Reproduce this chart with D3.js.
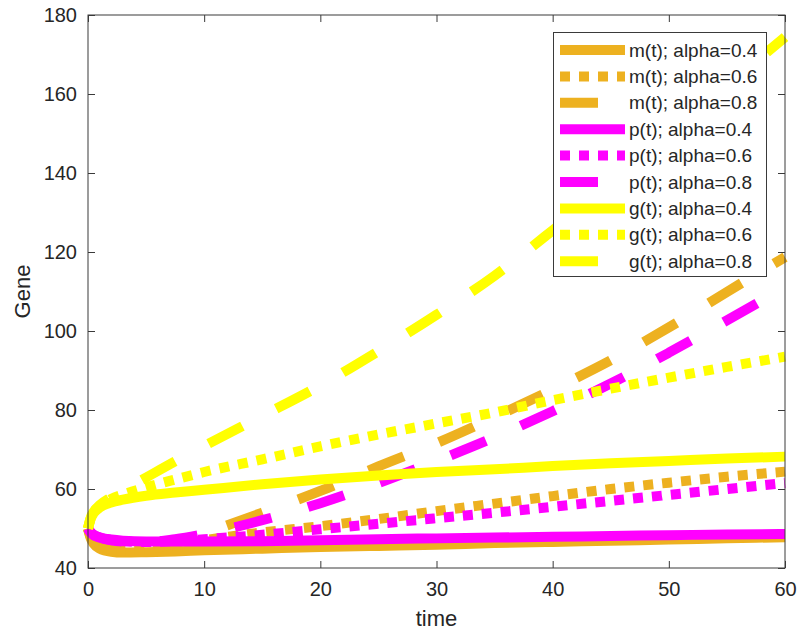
<!DOCTYPE html>
<html lang="en">
<head>
    <meta charset="UTF-8">
    <title>Gene vs time</title>
    <script src="https://d3js.org/d3.v7.min.js"></script>
    <style>
        body { margin: 0; background: #fff; }
        text { font-family: "Liberation Sans", Arial, sans-serif; fill: #262626; }
        .axis-line { stroke: #3a3a3a; stroke-width: 1; fill: none; }
    </style>
</head>
<body>
    <div id="chart"></div>
    <script type="text/javascript">
        // time samples shared by all series
        const time = [0, 0.25, 0.5, 1, 2, 3, 5, 7.5, 10, 15, 20, 25, 30, 35, 40, 45, 50, 55, 60];

        // values
        const m04 = [50, 47.4, 46.1, 44.9, 44.1, 43.9, 44.0, 44.2, 44.5, 44.9, 45.3, 45.6, 45.9, 46.3, 46.6, 46.9, 47.2, 47.5, 47.8];
        const m06 = [50, 47.8, 46.8, 45.6, 44.7, 44.5, 44.8, 45.8, 47.0, 49.0, 50.6, 52.4, 54.4, 56.3, 58.2, 60.0, 61.6, 63.1, 64.4];
        const m08 = [50, 48.3, 47.3, 46.0, 44.8, 44.4, 44.7, 46.4, 48.8, 54.0, 59.5, 65.7, 71.6, 78.2, 85.2, 92.6, 100.9, 109.9, 118.7];
        const p04 = [50, 48.9, 48.3, 47.8, 47.2, 46.9, 46.7, 46.7, 46.7, 46.8, 47.0, 47.3, 47.5, 47.7, 47.9, 48.1, 48.3, 48.5, 48.6];
        const p06 = [50, 48.9, 48.3, 47.7, 47.1, 46.8, 46.6, 46.8, 47.3, 48.4, 49.8, 51.2, 52.6, 54.0, 55.5, 57.0, 58.5, 60.0, 61.5];
        const p08 = [50, 49.0, 48.4, 47.7, 47.0, 46.7, 46.5, 47.3, 48.6, 52.1, 56.4, 61.5, 67.1, 73.1, 79.7, 86.7, 94.5, 102.7, 111.0];
        const g04 = [50, 52.6, 53.9, 55.3, 56.6, 57.3, 58.3, 59.1, 59.8, 61.2, 62.4, 63.4, 64.3, 65.0, 65.8, 66.5, 67.1, 67.7, 68.2];
        const g06 = [50, 52.8, 54.2, 55.6, 57.5, 58.6, 60.4, 62.4, 64.3, 67.5, 70.8, 73.8, 76.6, 79.4, 82.5, 85.4, 88.2, 90.9, 93.5];
        const g08 = [50, 52.9, 54.3, 55.9, 57.9, 59.6, 62.9, 67.0, 70.9, 78.5, 86.2, 94.9, 104.1, 114.0, 125.5, 137.6, 149.8, 162.1, 174.4];

        const labels = ["m(t); alpha=0.4", "m(t); alpha=0.6", "m(t); alpha=0.8",
                        "p(t); alpha=0.4", "p(t); alpha=0.6", "p(t); alpha=0.8",
                        "g(t); alpha=0.4", "g(t); alpha=0.6", "g(t); alpha=0.8"];
        const xTicks = [0, 10, 20, 30, 40, 50, 60];
        const yTicks = [40, 60, 80, 100, 120, 140, 160, 180];

        const orange = "#EDB120", magenta = "#FF00FF", yellow = "#FFFF00";
        const solid = null, dotted = "10,9", dashed = "38,38";

        const series = [
            {values: m04, color: orange, dash: solid},
            {values: m06, color: orange, dash: dotted},
            {values: m08, color: orange, dash: dashed},
            {values: p04, color: magenta, dash: solid},
            {values: p06, color: magenta, dash: dotted},
            {values: p08, color: magenta, dash: dashed},
            {values: g04, color: yellow, dash: solid},
            {values: g06, color: yellow, dash: dotted},
            {values: g08, color: yellow, dash: dashed}
        ];
        series.forEach((s, i) => s.label = labels[i]);

        const W = 800, H = 635;
        const margin = {left: 88, right: 785, top: 15, bottom: 568};

        const x = d3.scaleLinear().domain([0, 60]).range([margin.left, margin.right]);
        const y = d3.scaleLinear().domain([40, 180]).range([margin.bottom, margin.top]);

        const svg = d3.select("#chart").append("svg")
            .attr("width", W)
            .attr("height", H);

        const line = d3.line()
            .x((d, i) => x(time[i]))
            .y(d => y(d))
            .curve(d3.curveMonotoneX);

        // curves
        svg.append("g").selectAll("path")
            .data(series)
            .enter().append("path")
            .attr("d", d => line(d.values))
            .attr("fill", "none")
            .attr("stroke", d => d.color)
            .attr("stroke-width", 10)
            .attr("stroke-linecap", "butt")
            .attr("stroke-dasharray", d => d.dash);

        // axes (box with inward ticks)
        const tickLen = 7;
        const axisBottom = d3.axisBottom(x).tickValues(xTicks).tickSize(-tickLen).tickPadding(tickLen + 7);
        const axisLeft = d3.axisLeft(y).tickValues(yTicks).tickSize(-tickLen).tickPadding(tickLen + 4);
        const axisTop = d3.axisTop(x).tickValues(xTicks).tickSize(-tickLen).tickFormat("");
        const axisRight = d3.axisRight(y).tickValues(yTicks).tickSize(-tickLen).tickFormat("");

        function styleAxis(g) {
            g.select(".domain").remove();
            g.selectAll(".tick line").attr("stroke", "#3a3a3a");
            g.selectAll(".tick text")
                .attr("fill", "#262626")
                .style("font-size", "20px")
                .style("font-family", "'Liberation Sans', Arial, sans-serif");
        }

        svg.append("g").attr("transform", `translate(0,${margin.bottom})`).call(axisBottom).call(styleAxis);
        svg.append("g").attr("transform", `translate(${margin.left},0)`).call(axisLeft).call(styleAxis);
        svg.append("g").attr("transform", `translate(0,${margin.top})`).call(axisTop).call(styleAxis);
        svg.append("g").attr("transform", `translate(${margin.right},0)`).call(axisRight).call(styleAxis);

        svg.append("rect")
            .attr("class", "axis-line")
            .attr("x", margin.left)
            .attr("y", margin.top)
            .attr("width", margin.right - margin.left)
            .attr("height", margin.bottom - margin.top);

        // axis labels
        svg.append("text")
            .attr("x", (margin.left + margin.right) / 2)
            .attr("y", 626)
            .attr("text-anchor", "middle")
            .style("font-size", "22px")
            .text("time");

        svg.append("text")
            .attr("transform", `translate(30,${(margin.top + margin.bottom) / 2}) rotate(-90)`)
            .attr("text-anchor", "middle")
            .style("font-size", "22px")
            .text("Gene");

        // legend
        const legend = svg.append("g");
        legend.append("rect")
            .attr("x", 553.5)
            .attr("y", 32.5)
            .attr("width", 213)
            .attr("height", 244)
            .attr("fill", "#fff")
            .attr("stroke", "#3a3a3a")
            .attr("stroke-width", 1);

        const rows = legend.selectAll(".row")
            .data(series)
            .enter().append("g")
            .attr("class", "row")
            .attr("transform", (d, i) => `translate(0,${50 + i * 26.4})`);

        rows.append("line")
            .attr("x1", 560).attr("x2", 625)
            .attr("y1", 0).attr("y2", 0)
            .attr("stroke", d => d.color)
            .attr("stroke-width", 10)
            .attr("stroke-dasharray", d => d.dash);

        rows.append("text")
            .attr("x", 629)
            .attr("dy", "0.35em")
            .style("font-size", "19px")
            .text(d => d.label);
    </script>
</body>
</html>
